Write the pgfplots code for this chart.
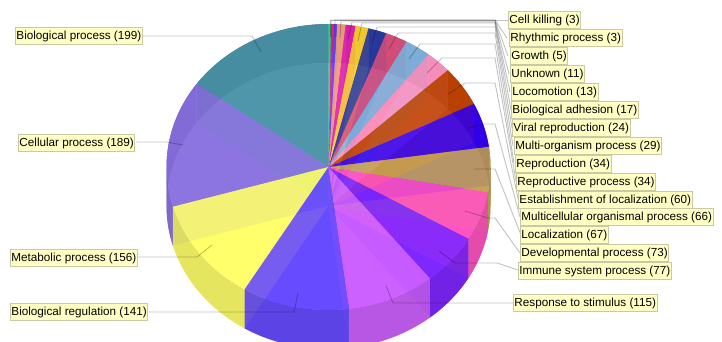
\documentclass[border=0pt]{standalone}
\usepackage{fontspec}
\setmainfont{Liberation Sans}
\usepackage{pgfplots}
\pgfplotsset{compat=1.18}

\definecolor{sBio}{HTML}{4A93A8}
\definecolor{sCel}{HTML}{8870E0}
\definecolor{sMet}{HTML}{FFFF66}
\definecolor{sReg}{HTML}{6246FF}
\definecolor{sRes}{HTML}{CC5CFF}
\definecolor{sImm}{HTML}{7A1FFF}
\definecolor{sDev}{HTML}{FF4DBF}
\definecolor{sLoc}{HTML}{C2A050}
\definecolor{sMul}{HTML}{3300EE}
\definecolor{sEst}{HTML}{BF4300}
\definecolor{sRpt}{HTML}{FF93C2}
\definecolor{sRpn}{HTML}{80B4E0}
\definecolor{sOrg}{HTML}{D8507F}
\definecolor{sVir}{HTML}{2A3AA0}
\definecolor{sAdh}{HTML}{F8D030}
\definecolor{sLcm}{HTML}{E020B0}
\definecolor{sUnk}{HTML}{F0A080}
\definecolor{sGro}{HTML}{7040F0}
\definecolor{sRhy}{HTML}{F02080}
\definecolor{sKil}{HTML}{20E080}
\definecolor{boxfill}{HTML}{FFFFC4}
\definecolor{boxedge}{HTML}{C9C9A6}

% Gene-count per slice, anticlockwise from twelve o'clock
\def\slicelist{199/sBio,189/sCel,156/sMet,141/sReg,115/sRes,77/sImm,73/sDev,67/sLoc,66/sMul,60/sEst,34/sRpt,34/sRpn,29/sOrg,24/sVir,17/sAdh,13/sLcm,11/sUnk,5/sGro,3/sRhy,3/sKil}
\def\grandtotal{1316}
\def\cx{328.5}\def\rx{162}\def\ry{143}
\def\ytop{167}\def\ybot{206}

% Appends points of an elliptical arc to \ptlist
\newcommand\appendarc[3]{%
  \pgfmathsetmacro\sweep{#2-#1}%
  \pgfmathtruncatemacro\nseg{ceil(abs(\sweep)/1.5)+1}%
  \foreach \i in {0,...,\nseg}{%
    \pgfmathsetmacro\ang{#1+\sweep*\i/\nseg}%
    \pgfmathsetmacro\px{\cx+\rx*cos(\ang)}%
    \pgfmathsetmacro\py{#3-\ry*sin(\ang)}%
    \xdef\ptlist{\ptlist (\px,\py)}%
  }%
}
% Runs #1 once per slice with \angA, \angB and \colr set
\newcommand\eachslice[1]{%
  \gdef\cumul{0}%
  \foreach \val/\colr in \slicelist {%
    \pgfmathsetmacro\angA{90+\cumul/\grandtotal*360}%
    \pgfmathsetmacro\angB{90+(\cumul+\val)/\grandtotal*360}%
    #1%
    \pgfmathsetmacro\nn{\cumul+\val}%
    \xdef\cumul{\nn}%
  }%
}
\newcommand\drawsector[2]{% height of apex, plot options
  \xdef\ptlist{(\cx,#1)}%
  \appendarc{\angA}{\angB}{#1}%
  \edef\temp{\noexpand\addplot[draw=none,forget plot,#2] coordinates {\ptlist};}\temp
}
\newcommand\drawwall[3]{% visible angular range, plot options
  \pgfmathsetmacro\lo{max(#1,\angA)}%
  \pgfmathsetmacro\hi{min(#2,\angB)}%
  \ifdim\lo pt<\hi pt\relax
    \xdef\ptlist{}%
    \appendarc{\lo}{\hi}{\ytop}%
    \appendarc{\hi}{\lo}{\ybot}%
    \edef\temp{\noexpand\addplot[draw=none,forget plot,#3] coordinates {\ptlist};}\temp
  \fi
}
\newcommand\leader[1]{\addplot[black,opacity=0.24,line width=0.9pt,forget plot] coordinates {#1};}

\begin{document}
\begin{tikzpicture}[
  tag/.style={anchor=west,fill=boxfill,draw=boxedge,line width=0.9pt,
    inner xsep=1pt,inner ysep=0pt,minimum height=17.5pt,
    font=\fontsize{11.7}{14}\selectfont,text=black}]
\begin{axis}[
  scale only axis,width=722pt,height=342pt,
  xmin=0,xmax=722,ymin=0,ymax=342,y dir=reverse,
  hide axis,clip=true]

% back wall, floor, front wall, then the translucent lid
\eachslice{\drawwall{90}{180}{fill=\colr!72!black}\drawwall{360}{450}{fill=\colr!72!black}}
\eachslice{\drawsector{\ybot}{fill=\colr!72!white}}
\eachslice{\drawwall{180}{360}{fill=\colr!89!black,fill opacity=0.9}}
\eachslice{\drawsector{\ytop}{fill=\colr,fill opacity=0.87}}

% leader lines
\leader{(142,36)(252,36)(261,52)}
\leader{(136,142)(167,142)(183,145)}
\leader{(138,257)(197,257)(212,245)}
\leader{(145,312)(294,312)(298,293)}
\leader{(513,303)(393,303)(386,286)}
\leader{(518,270)(497,263)(455,263)(439,251)}
\leader{(520,253)(495,218)(488,218)(465,211)}
\leader{(521,235)(495,169)(474,169)}
\leader{(520,217)(495,124)(483,124)(468,128)}
\leader{(518,199)(495,83)(465,83)(448,94)}
\leader{(516,181)(495,58)(442,58)(427,73)}
\leader{(514,163)(495,44)(420,44)(409,59)}
\leader{(513,146)(495,33)(398,33)(389,49)}
\leader{(512,128)(495,27)(377,27)(372,43)}
\leader{(511,110)(495,23)(362,23)(358,41)}
\leader{(510,92)(495,22)(352,22)(348,39)}
\leader{(509,74)(495,21)(341,21)(340,38)}
\leader{(508,56)(495,20)(335,20)(335,37)}
\leader{(507,38)(495,20)(331,20)(331,37)}
\leader{(508,20)(330,20)(330,37)}

% labels
\node[tag] at (axis cs:508,20) {Cell killing (3)};
\node[tag] at (axis cs:509,38) {Rhythmic process (3)};
\node[tag] at (axis cs:510,56) {Growth (5)};
\node[tag] at (axis cs:510,74) {Unknown (11)};
\node[tag] at (axis cs:511,92) {Locomotion (13)};
\node[tag] at (axis cs:511,110) {Biological adhesion (17)};
\node[tag] at (axis cs:512,128) {Viral reproduction (24)};
\node[tag] at (axis cs:514,146) {Multi-organism process (29)};
\node[tag] at (axis cs:515,164) {Reproduction (34)};
\node[tag] at (axis cs:516,182) {Reproductive process (34)};
\node[tag] at (axis cs:518,200) {Establishment of localization (60)};
\node[tag] at (axis cs:520,217) {Multicellular organismal process (66)};
\node[tag] at (axis cs:520,235) {Localization (67)};
\node[tag] at (axis cs:520,253) {Developmental process (73)};
\node[tag] at (axis cs:518,271) {Immune system process (77)};
\node[tag] at (axis cs:513,303) {Response to stimulus (115)};
\node[tag] at (axis cs:15,36) {Biological process (199)};
\node[tag] at (axis cs:18,143) {Cellular process (189)};
\node[tag] at (axis cs:10,258) {Metabolic process (156)};
\node[tag] at (axis cs:10,312) {Biological regulation (141)};
\end{axis}
\pgfresetboundingbox
\path[use as bounding box] (current axis.south west) rectangle (current axis.north east);
\end{tikzpicture}
\end{document}
